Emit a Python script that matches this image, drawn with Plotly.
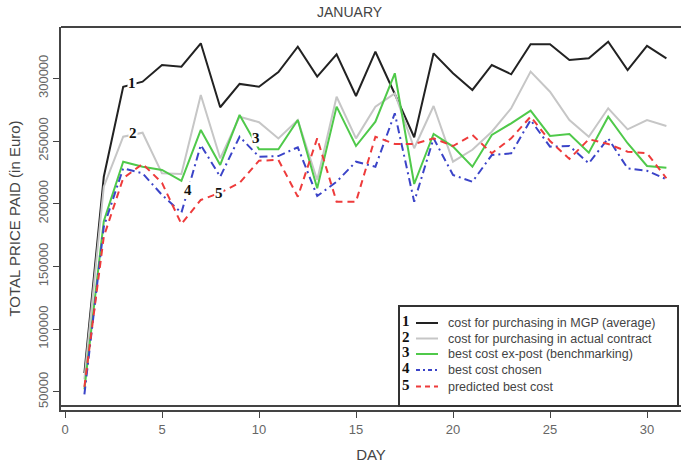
import plotly.graph_objects as go

days = list(range(1, 32))

mgp_average = [65000, 221500, 293300, 297300, 310600, 309200, 327900, 276900, 295500, 293300,
               305000, 325200, 301300, 319100, 285900, 321200, 287500, 253000, 319900, 304000,
               290700, 310600, 303200, 327100, 327100, 314600, 315900, 329200, 306600, 325800, 315900]

actual_contract = [60000, 213600, 253400, 256600, 224200, 223700, 286700, 236200, 269400, 265000,
                   252000, 266700, 218900, 285300, 252100, 277400, 288000, 244200, 277900, 233500,
                   243000, 257400, 276100, 305300, 289300, 266700, 253400, 276100, 259300, 266700, 262000]

best_ex_post = [52000, 186000, 233500, 229500, 226900, 218300, 258800, 230900, 270800, 243400,
                243400, 266700, 212300, 277400, 246000, 265400, 304000, 215700, 255600, 245500,
                229500, 254800, 264100, 274200, 254000, 255600, 240700, 269400, 248200, 230100, 228700]

best_chosen = [48000, 181700, 228200, 224200, 207000, 192800, 246800, 221500, 253400, 237500,
               238000, 245000, 206100, 217500, 233500, 229500, 272100, 201600, 252100, 222900,
               217500, 238800, 240200, 266700, 245500, 246000, 232200, 252100, 228200, 226300, 219500]

predicted_best = [54000, 173700, 220300, 231700, 216600, 183800, 203000, 208800, 216600, 234300,
                  234900, 205600, 252100, 201600, 201600, 253400, 247600, 247600, 252100, 246000,
                  254800, 240200, 252100, 269400, 250000, 235700, 251400, 247600, 241500, 240200, 220300]

series_names = ["cost for purchasing in MGP (average)",
                "cost for purchasing in actual contract",
                "best cost ex-post (benchmarking)",
                "best cost chosen",
                "predicted best cost"]
series_numbers = ["1", "2", "3", "4", "5"]
x_ticks = [0, 5, 10, 15, 20, 25, 30]
y_ticks = [50000, 100000, 150000, 200000, 250000, 300000]

# on-chart number labels (day, value)
label_pos = [(3.44, 296000), (3.52, 256100), (9.85, 252200), (6.36, 210900), (7.95, 208800)]

colors = ["#222222", "#c6c6c6", "#4fc94a", "#3b44c8", "#ee3b3b"]
dashes = ["solid", "solid", "solid", "8px,4px,2px,4px", "7px,5px"]
widths = [2, 2, 2, 2, 2]
series = [mgp_average, actual_contract, best_ex_post, best_chosen, predicted_best]

W, H = 681, 468
ML, MT, MB = 61, 27, 58
PW, PH = W - ML, H - MT - MB

def px(xp):
    return (xp - ML) / PW

def py(yp):
    return (H - MB - yp) / PH

fig = go.Figure()
for vals, name, c, d, w in zip(series, series_names, colors, dashes, widths):
    fig.add_trace(go.Scatter(x=days, y=vals, mode="lines", name=name,
                             line=dict(color=c, dash=d, width=w), showlegend=False))

annotations = []
for (dx, vy), num in zip(label_pos, series_numbers):
    annotations.append(dict(x=dx, y=vy, xref="x", yref="y", text="<b>%s</b>" % num,
                            showarrow=False, bgcolor="white", borderpad=0,
                            xanchor="center", yanchor="middle",
                            font=dict(family="Liberation Serif", size=15, color="#111")))

shapes = []
# box top and bottom lines
shapes.append(dict(type="line", xref="paper", yref="paper", x0=0, x1=1.02, y0=1, y1=1,
                   line=dict(color="#444", width=2)))
shapes.append(dict(type="line", xref="paper", yref="paper", x0=0, x1=1.02, y0=py(406), y1=py(406),
                   line=dict(color="#444", width=2)))
# legend box
shapes.append(dict(type="rect", xref="paper", yref="paper", x0=px(399), x1=px(678),
                   y0=py(406), y1=py(306), line=dict(color="#333", width=2), fillcolor="white",
                   layer="above"))
rows = [323, 338.5, 354, 370, 386.5]
for i, ry in enumerate(rows):
    shapes.append(dict(type="line", xref="paper", yref="paper", x0=px(416), x1=px(438),
                       y0=py(ry), y1=py(ry),
                       line=dict(color=colors[i], width=2,
                                 dash=("solid" if i < 3 else ("4px,3px,2px,3px" if i == 3 else "5px,4px"))),
                       layer="above"))
    annotations.append(dict(x=px(406), y=py(ry - 2), xref="paper", yref="paper",
                            xanchor="center", yanchor="middle",
                            text="<b>%s</b>" % series_numbers[i], showarrow=False,
                            font=dict(family="Liberation Serif", size=15, color="#111")))
    annotations.append(dict(x=px(446), y=py(ry), xref="paper", yref="paper",
                            xanchor="left", yanchor="middle",
                            text=series_names[i], showarrow=False,
                            font=dict(family="Liberation Sans", size=12.5, color="#444")))

annotations.append(dict(x=px(350), y=py(12), xref="paper", yref="paper", text="JANUARY",
                        xanchor="center", yanchor="middle",
                        showarrow=False, font=dict(family="Liberation Sans", size=14, color="#444")))

fig.update_layout(
    width=W, height=H,
    margin=dict(l=ML, r=0, t=MT, b=MB, pad=0),
    paper_bgcolor="white", plot_bgcolor="white",
    showlegend=False,
    shapes=shapes, annotations=annotations,
    font=dict(family="Liberation Sans", color="#555"),
    xaxis=dict(range=[(ML - 65) / 19.4, (W - 65) / 19.4], tickvals=x_ticks,
               showgrid=False, zeroline=False, showline=True, linecolor="#444", linewidth=2,
               ticks="outside", ticklen=6, tickcolor="#444", tickwidth=1,
               tickfont=dict(size=13, color="#666"),
               title=dict(text="DAY", font=dict(size=15, color="#444"), standoff=14)),
    yaxis=dict(range=[35500, 340900], tickvals=y_ticks, tickformat="d",
               showgrid=False, zeroline=False, showline=True, linecolor="#444", linewidth=2,
               ticks="outside", ticklen=6, tickcolor="#444", tickwidth=1, tickangle=-90,
               tickfont=dict(size=13, color="#666"),
               title=dict(text="TOTAL PRICE PAID (in Euro)", font=dict(size=15, color="#444"),
                          standoff=12)),
)

fig.write_html("out.html")
